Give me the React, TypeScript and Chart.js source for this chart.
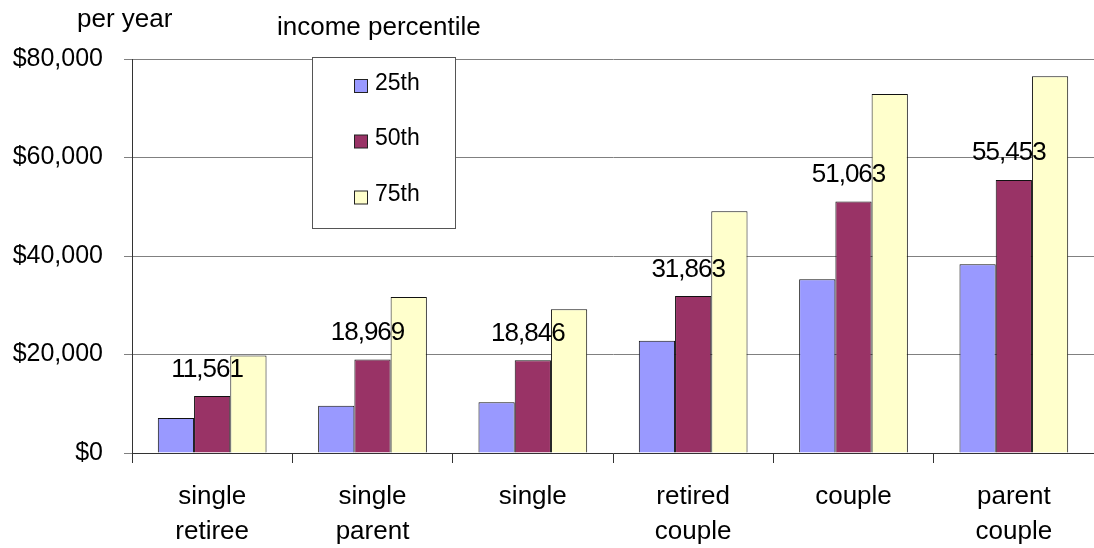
import React, { useEffect, useRef } from 'react';
import { Chart, registerables } from 'chart.js';

Chart.register(...registerables);

const categories: string[][] = [
  ['single', 'retiree'],
  ['single', 'parent'],
  ['single'],
  ['retired', 'couple'],
  ['couple'],
  ['parent', 'couple'],
];
const seriesNames = ['25th', '50th', '75th'];
const p25 = [7100, 9600, 10300, 22800, 35300, 38300];
const p50 = [11561, 18969, 18846, 31863, 51063, 55453];
const p75 = [19800, 31700, 29200, 49100, 72900, 76500];
const labelledSeries = 1;
const yMin = 0;
const yMax = 80000;
const yStep = 20000;
const yTitle = 'per year';
const legendTitle = 'income percentile';
const seriesColors = ['#9999FF', '#993366', '#FFFFCC'];

const FONT = "'Liberation Sans', Arial, Helvetica, sans-serif";

const overlayPlugin = {
  id: 'overlay',
  afterDatasetsDraw(chart: any) {
    const ctx = chart.ctx;
    const meta = chart.getDatasetMeta(labelledSeries);
    const data = chart.data.datasets[labelledSeries].data as number[];
    ctx.save();
    ctx.font = `26px ${FONT}`;
    try { (ctx as any).letterSpacing = '-1px'; } catch (e) {}
    ctx.fillStyle = '#000';
    ctx.textAlign = 'center';
    ctx.textBaseline = 'alphabetic';
    meta.data.forEach((bar: any, i: number) => {
      ctx.fillText(data[i].toLocaleString('en-US'), bar.x - 5, bar.y - 19.5);
    });
    ctx.restore();
  },
  afterDraw(chart: any) {
    const ctx = chart.ctx;
    ctx.save();
    // titles
    ctx.fillStyle = '#000';
    ctx.font = `26px ${FONT}`;
    ctx.textAlign = 'left';
    ctx.textBaseline = 'alphabetic';
    ctx.fillText(yTitle, 77, 27);
    ctx.fillText(legendTitle, 277, 35);
    // legend box
    ctx.fillStyle = '#fff';
    ctx.fillRect(312.5, 57.5, 143, 171);
    ctx.strokeStyle = '#555';
    ctx.lineWidth = 1;
    ctx.strokeRect(312.5, 57.5, 143, 171);
    const tops = [79, 134.5, 190.5];
    chart.data.datasets.forEach((ds: any, i: number) => {
      const t = tops[i];
      ctx.fillStyle = ds.backgroundColor;
      ctx.fillRect(354.5, t + 0.5, 13, 13);
      ctx.strokeStyle = '#222';
      ctx.strokeRect(354.5, t + 0.5, 13, 13);
      ctx.fillStyle = '#000';
      ctx.font = `23px ${FONT}`;
      ctx.fillText(ds.label, 375, t + 10.5);
    });
    ctx.restore();
  },
};

export default function App() {
  const ref = useRef<HTMLCanvasElement | null>(null);
  useEffect(() => {
    if (!ref.current) return;
    const chart = new Chart(ref.current, {
      type: 'bar',
      data: {
        labels: categories as any,
        datasets: [p25, p50, p75].map((d, i) => ({
          label: seriesNames[i],
          data: d,
          backgroundColor: seriesColors[i],
          borderColor: '#111',
          borderWidth: 1,
          barPercentage: 1,
          categoryPercentage: 0.678,
        })),
      },
      options: {
        responsive: false,
        animation: false,
        layout: { padding: { top: 59, left: 0, right: 0, bottom: 0 } },
        plugins: {
          legend: { display: false },
          title: { display: false },
          tooltip: { enabled: false },
        },
        scales: {
          x: {
            offset: true,
            grid: {
              display: true,
              drawOnChartArea: false,
              offset: true,
              tickLength: 10,
              color: '#333',
            },
            border: { display: true, color: '#333' },
            ticks: {
              color: '#000',
              padding: 16,
              maxRotation: 0,
              autoSkip: false,
              font: { family: FONT, size: 26, lineHeight: 35 / 26 },
            },
            afterFit: (s: any) => { s.height = 95; },
          },
          y: {
            min: yMin,
            max: yMax,
            grid: { color: '#808080', tickLength: 8, lineWidth: 1 },
            border: { display: true, color: '#333' },
            ticks: {
              stepSize: yStep,
              color: '#000',
              padding: 21,
              font: { family: FONT, size: 25 },
              callback: (v: any) => '$' + Number(v).toLocaleString('en-US'),
            },
            afterFit: (s: any) => { s.width = 132; },
          },
        },
      },
      plugins: [overlayPlugin],
    });
    return () => chart.destroy();
  }, []);
  return (
    <div style={{ position: 'absolute', left: 0, top: 0, width: 1094, height: 548, background: '#fff' }}>
      <canvas ref={ref} width={1094} height={548} style={{ display: 'block' }} />
    </div>
  );
}
